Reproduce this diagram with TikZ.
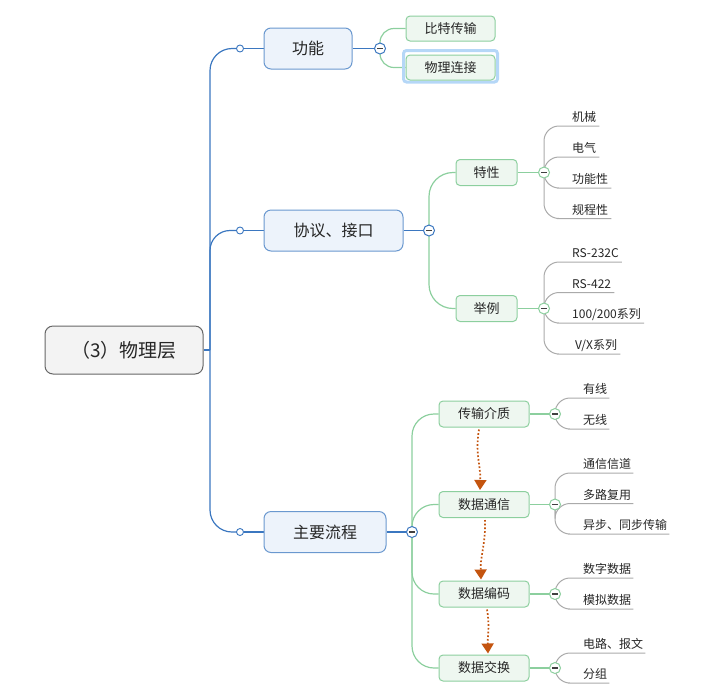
\documentclass[tikz,border=0pt]{standalone}
\usepackage{fontspec}
\setmainfont{Noto Sans CJK SC}
\usetikzlibrary{arrows.meta,backgrounds}
\definecolor{bline}{HTML}{3B77C0}
\definecolor{bbox}{HTML}{6A98CF}
\definecolor{bfill}{HTML}{EDF3FB}
\definecolor{gline}{HTML}{8CCF9E}
\definecolor{gbox}{HTML}{8CCF9E}
\definecolor{gfill}{HTML}{EEF7F0}
\definecolor{lline}{HTML}{AAAAAA}
\definecolor{rootborder}{HTML}{666666}
\definecolor{rootfill}{HTML}{F3F3F3}
\definecolor{txt}{HTML}{262626}
\definecolor{orng}{HTML}{C4540F}
\definecolor{selblue}{HTML}{B5D7F7}
\begin{document}
\begin{tikzpicture}[x=1pt,y=-1pt,
 rootbox/.style={draw=rootborder, fill=rootfill, rounded corners=8pt, line width=1pt, minimum width=158pt, minimum height=48pt, inner sep=0pt, font=\fontsize{19}{21}\selectfont, text=txt},
 lonebox/.style={draw=bbox, fill=bfill, rounded corners=7pt, line width=1pt, minimum height=41pt, inner sep=0pt, font=\fontsize{16}{18}\selectfont, text=txt},
 ltwobox/.style={draw=gbox, fill=gfill, rounded corners=4pt, line width=1pt, minimum height=25pt, inner sep=0pt, font=\fontsize{13}{15}\selectfont, text=txt},
 leafnode/.style={anchor=south west, inner xsep=0pt, inner ysep=3pt, font=\fontsize{12}{14}\selectfont, text height=9pt, text depth=1pt, text=txt},
 colb/.style={circle, draw=bline, fill=white, line width=1pt, minimum size=11pt, inner sep=0pt,
   path picture={\draw[line width=1.4pt, black!75] ([xshift=-2.6pt]path picture bounding box.center) -- ([xshift=2.6pt]path picture bounding box.center);}},
 colg/.style={colb, draw=gline},
 knob/.style={circle, draw=bline, fill=white, line width=0.9pt, minimum size=7pt, inner sep=0pt},
 bl/.style={draw=bline, line width=1.2pt},
 gl/.style={draw=gline, line width=1.2pt},
 ll/.style={draw=lline, line width=1pt},
 flow/.style={draw=orng, line width=1.7pt, dotted, -{Triangle[length=10pt,width=12pt,fill=orng]}}
]
\useasboundingbox (0,0) rectangle (701,697);

% root
\node[rootbox] (root) at (124,350) {（3）物理层};
\coordinate (trunk) at (210,350);

% level 1
\node[lonebox, minimum width=88pt] (gn) at (308,48.5) {功能};
\node[lonebox, minimum width=139pt] (xy) at (333.5,230.5) {协议、接口};
\node[lonebox, minimum width=122pt] (lc) at (325,532) {主要流程};

\node[knob] (k1) at (240,48.5) {};
\node[knob] (k2) at (240,230.5) {};
\node[knob] (k3) at (240,532) {};

\node[colb] (c1) at (380,48.5) {};
\node[colb] (c2) at (429,230.5) {};
\node[colb] (c3) at (412,532) {};

% 功能 children
\draw[selblue, line width=3pt, rounded corners=3pt] (403.5,50.5) rectangle (497.5,82);
\node[ltwobox, minimum width=89pt] (bt) at (450.5,28.5) {比特传输};
\node[ltwobox, minimum width=89pt] (wl) at (450.5,67.5) {物理连接};

% 协议 children
\node[ltwobox, minimum width=61pt, minimum height=26pt] (tx) at (486.5,172.5) {特性};
\node[ltwobox, minimum width=61pt, minimum height=26pt] (jl) at (486.5,308.5) {举例};
\node[colg] (ctx) at (544,172.5) {};
\node[colg] (cjl) at (544,308.5) {};

\node[leafnode] (a1) at (572,126) {机械};
\node[leafnode] (a2) at (572,157) {电气};
\node[leafnode] (a3) at (572,188) {功能性};
\node[leafnode] (a4) at (572,218.5) {规程性};
\node[leafnode] (b1) at (572,262) {RS-232C};
\node[leafnode] (b2) at (572,292.5) {RS-422};
\node[leafnode] (b3) at (572,323) {100/200系列};
\node[leafnode] (b4) at (572,354) {\hspace{3pt}V/X系列};

% 主要流程 children
\node[ltwobox, minimum width=90pt, minimum height=26pt] (m1) at (484,414) {传输介质};
\node[ltwobox, minimum width=90pt, minimum height=26pt] (m2) at (484,504.5) {数据通信};
\node[ltwobox, minimum width=90pt, minimum height=26pt] (m3) at (484,594) {数据编码};
\node[ltwobox, minimum width=90pt, minimum height=26pt] (m4) at (484,668) {数据交换};
\node[colg] (cm1) at (555,414) {};
\node[colg] (cm2) at (555,504.5) {};
\node[colg] (cm3) at (555,594) {};
\node[colg] (cm4) at (555,668) {};

\node[leafnode] (d1) at (583,398) {有线};
\node[leafnode] (d2) at (583,429) {无线};
\node[leafnode] (e1) at (583,473) {通信信道};
\node[leafnode] (e2) at (583,503.5) {多路复用};
\node[leafnode] (e3) at (583,534) {异步、同步传输};
\node[leafnode] (f1) at (583,578) {数字数据};
\node[leafnode] (f2) at (583,609) {模拟数据};
\node[leafnode] (g1) at (583,653) {电路、报文};
\node[leafnode] (g2) at (583,683) {分组};

\begin{scope}[on background layer]
 % main trunk
 \draw[bl] (root.east) -- (trunk);
 \draw[bl, rounded corners=22pt] (trunk) |- (k1.center);
 \draw[bl, rounded corners=20pt] (trunk) |- (k2.center);
 \draw[bl, rounded corners=22pt] (trunk) |- (k3.center);
 \draw[bl] (k1) -- (gn.west);
 \draw[bl] (k2) -- (xy.west);
 \draw[bl] (k3) -- (lc.west);
 \draw[bl] (gn.east) -- (c1.center);
 \draw[bl] (xy.east) -- (c2.center);
 \draw[bl] (lc.east) -- (c3.center);
 % 功能
 \draw[gl, rounded corners=14pt] (c1.center) |- (bt.west);
 \draw[gl, rounded corners=14pt] (c1.center) |- (wl.west);
 % 协议
 \draw[gl, rounded corners=24pt] (c2.center) |- (tx.west);
 \draw[gl, rounded corners=24pt] (c2.center) |- (jl.west);
 \draw[gl] (tx.east) -- (ctx.center);
 \draw[gl] (jl.east) -- (cjl.center);
 \foreach \l in {a1,a2,a3,a4}
   \draw[ll, rounded corners=15pt] (ctx.center) |- (\l.south west) -- ([xshift=3pt]\l.south east);
 \foreach \l in {b1,b2,b3,b4}
   \draw[ll, rounded corners=15pt] (cjl.center) |- (\l.south west) -- ([xshift=3pt]\l.south east);
 % 主要流程
 \foreach \m in {m1,m2,m3,m4}
   \draw[gl, rounded corners=22pt] (c3.center) |- (\m.west);
 \draw[gl] (m1.east) -- (cm1.center);
 \draw[gl] (m2.east) -- (cm2.center);
 \draw[gl] (m3.east) -- (cm3.center);
 \draw[gl] (m4.east) -- (cm4.center);
 \foreach \l in {d1,d2}
   \draw[ll, rounded corners=15pt] (cm1.center) |- (\l.south west) -- ([xshift=2pt]\l.south east);
 \foreach \l in {e1,e2,e3}
   \draw[ll, rounded corners=15pt] (cm2.center) |- (\l.south west) -- ([xshift=2pt]\l.south east);
 \foreach \l in {f1,f2}
   \draw[ll, rounded corners=15pt] (cm3.center) |- (\l.south west) -- ([xshift=2pt]\l.south east);
 \foreach \l in {g1,g2}
   \draw[ll, rounded corners=15pt] (cm4.center) |- (\l.south west) -- ([xshift=2pt]\l.south east);
\end{scope}

% flow arrows
\draw[flow] ([xshift=-5pt,yshift=-2pt]m1.south) to[out=-100,in=88] ([xshift=-4pt,yshift=1pt]m2.north);
\draw[flow] ([xshift=1pt,yshift=-2pt]m2.south) to[out=-88,in=92] ([xshift=-3pt,yshift=1pt]m3.north);
\draw[flow] ([xshift=3pt,yshift=-2pt]m3.south) to[out=-80,in=92] ([xshift=4pt,yshift=1pt]m4.north);
\end{tikzpicture}
\end{document}
